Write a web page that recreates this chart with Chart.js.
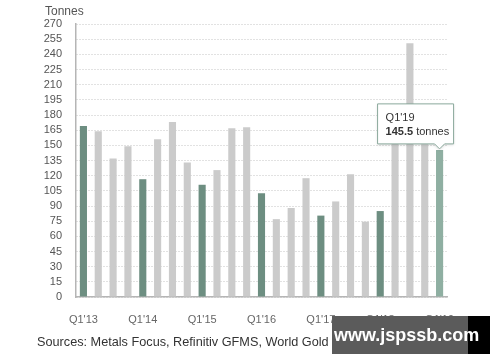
<!DOCTYPE html>
<html>
<head>
<meta charset="utf-8">
<script src="https://cdn.jsdelivr.net/npm/chart.js@4"></script>
<style>
  body { margin: 0; background: #fff; }
  #wrap { position: relative; width: 500px; height: 362px; font-family: "Liberation Sans", Arial, sans-serif; }
  #source { position: absolute; left: 37px; top: 335px; font-size: 12.7px; color: #333; white-space: nowrap; }
  #source span { color: #8a7a4c; }
  #mark { position: absolute; left: 332px; top: 316px; width: 158px; height: 38px; background: #5b5b5b; overflow: hidden; }
  #mark i { position: absolute; right: 0; top: 0; width: 22px; height: 38px; background: #000; }
  #mark b { position: absolute; left: 2px; top: 9px; color: #fff; font-size: 18px; font-family: "Liberation Sans", Arial, sans-serif; }
</style>
</head>
<body>
<div id="wrap">
  <canvas id="chart" width="500" height="362"></canvas>
  <div id="source">Sources: Metals Focus, Refinitiv GFMS, World Gold Council; <span>Disclaimer</span></div>
  <div id="mark"><i></i><b>www.jspssb.com</b></div>
</div>
<script>
// quarterly central bank gold demand
const quarters = [
  "Q1'13", "Q2'13", "Q3'13", "Q4'13",
  "Q1'14", "Q2'14", "Q3'14", "Q4'14",
  "Q1'15", "Q2'15", "Q3'15", "Q4'15",
  "Q1'16", "Q2'16", "Q3'16", "Q4'16",
  "Q1'17", "Q2'17", "Q3'17", "Q4'17",
  "Q1'18", "Q2'18", "Q3'18", "Q4'18",
  "Q1'19",
];
const tonnes = [
  169, 164, 137, 149,
  116.5, 156, 173, 133,
  111, 125.5, 167, 168,
  102.5, 77, 88, 117.5,
  80.5, 94.5, 121.5, 74.5,
  85, 158, 251, 151,
  145.5,
];
const yTicks = { min: 0, max: 270, step: 15 };
const hoverIndex = 24;

const green = "#6d8e81";
const gray = "#cbcbcb";
const hoverGreen = "#8fafa2";

const barColors = quarters.map((q, i) => {
  if (i === hoverIndex) return hoverGreen;
  return q.startsWith("Q1") ? green : gray;
});

const tickFont = { family: "'Liberation Sans', Arial, sans-serif", size: 11 };

const extras = {
  id: "extras",
  afterDraw(chart) {
    const ctx = chart.ctx;
    ctx.save();
    ctx.fillStyle = "#555";
    ctx.font = "12px 'Liberation Sans', Arial, sans-serif";
    ctx.textBaseline = "middle";
    ctx.fillText("Tonnes", 45, 12);

    // tooltip for the hovered bar
    const bar = chart.getDatasetMeta(0).data[hoverIndex];
    const w = 76, h = 40;
    const left = bar.x - 62, bottom = bar.y - 6, top = bottom - h;
    ctx.beginPath();
    ctx.moveTo(left, top);
    ctx.lineTo(left + w, top);
    ctx.lineTo(left + w, bottom);
    ctx.lineTo(bar.x + 5, bottom);
    ctx.lineTo(bar.x, bottom + 5);
    ctx.lineTo(bar.x - 5, bottom);
    ctx.lineTo(left, bottom);
    ctx.closePath();
    ctx.shadowColor = "rgba(0,0,0,0.15)";
    ctx.shadowBlur = 3;
    ctx.shadowOffsetY = 1;
    ctx.fillStyle = "#fff";
    ctx.fill();
    ctx.shadowColor = "transparent";
    ctx.strokeStyle = "#8aa99c";
    ctx.lineWidth = 1;
    ctx.stroke();

    const font = "11px 'Liberation Sans', Arial, sans-serif";
    ctx.fillStyle = "#333";
    ctx.font = font;
    ctx.fillText(quarters[hoverIndex], left + 8, top + 14);
    ctx.font = "bold " + font;
    const val = String(tonnes[hoverIndex]);
    ctx.fillText(val, left + 8, top + 28);
    const vw = ctx.measureText(val).width;
    ctx.font = font;
    ctx.fillText(" tonnes", left + 8 + vw, top + 28);
    ctx.restore();
  },
};

new Chart(document.getElementById("chart"), {
  type: "bar",
  data: {
    labels: quarters,
    datasets: [{
      data: tonnes,
      backgroundColor: barColors,
      categoryPercentage: 1,
      barPercentage: 0.48,
    }],
  },
  options: {
    responsive: false,
    animation: false,
    layout: { padding: { left: 0, right: 53, top: 24, bottom: 0 } },
    plugins: { legend: { display: false }, tooltip: { enabled: false } },
    scales: {
      x: {
        grid: { display: false },
        border: { color: "#b5b5b5", width: 1.5 },
        afterFit: (s) => { s.height = 65; },
        ticks: {
          color: "#666",
          font: tickFont,
          padding: 8,
          autoSkip: false,
          maxRotation: 0,
          callback: (v, i) => (i % 4 === 0 ? quarters[i] : ""),
        },
      },
      y: {
        min: yTicks.min,
        max: yTicks.max,
        afterFit: (s) => { s.width = 76; },
        grid: { color: "#c4c4c4", drawTicks: false },
        border: { color: "#b5b5b5", width: 1.5, dash: [1, 2] },
        ticks: { stepSize: yTicks.step, autoSkip: false, color: "#555", font: tickFont, padding: 14 },
      },
    },
  },
  plugins: [extras],
});
</script>
</body>
</html>
